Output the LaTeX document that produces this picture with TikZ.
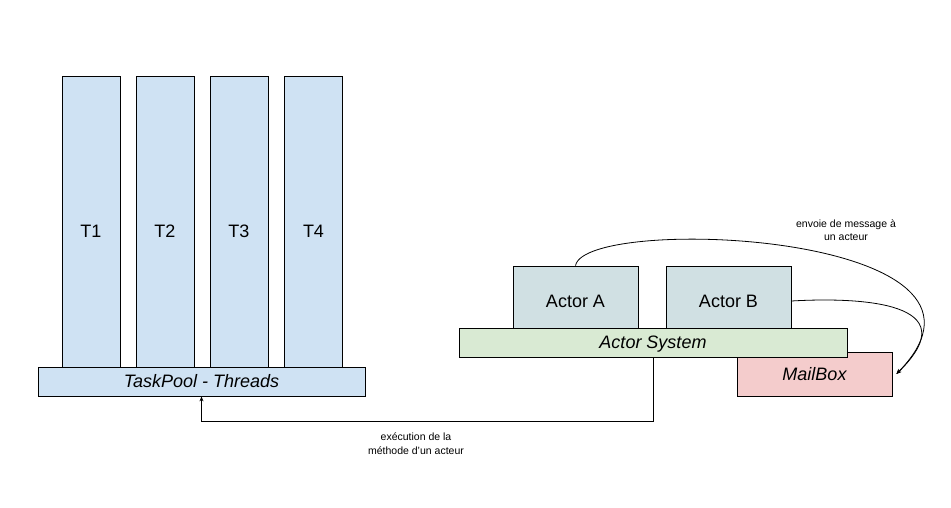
\documentclass[tikz,border=0pt]{standalone}
\usepackage{fontspec}
\setmainfont{Liberation Sans}
\usetikzlibrary{arrows.meta}
\definecolor{tblue}{HTML}{CFE2F3}
\definecolor{actorc}{HTML}{D0E0E3}
\definecolor{sysc}{HTML}{D9EAD3}
\definecolor{mailc}{HTML}{F4CCCC}
\begin{document}
\begin{tikzpicture}[x=1pt,y=-1pt,
  box/.style={draw=black, line width=0.8pt, inner sep=0pt,
    font=\fontsize{18}{21}\selectfont, text height=12.9pt, text depth=0pt},
  thread/.style={box, fill=tblue, minimum width=58pt, minimum height=310pt},
  actor/.style={box, fill=actorc, minimum width=125pt, minimum height=70pt},
  conn/.style={draw=black, line width=0.8pt, -{Stealth[length=5pt,width=4pt]}},
  lbl/.style={align=center, inner sep=0pt, font=\fontsize{10.5}{13.5}\selectfont}]
\useasboundingbox[fill=white] (0,0) rectangle (951,507);

\node[thread] (T1) at (91,231) {T1};
\node[thread] (T2) at (165,231) {T2};
\node[thread] (T3) at (239,231) {T3};
\node[thread] (T4) at (313.5,231) {T4};
\node[box, fill=tblue, minimum width=327pt, minimum height=29pt] (TP) at (201.5,381.5) {\itshape TaskPool - Threads};

\node[box, fill=mailc, minimum width=155pt, minimum height=44pt] (MB) at (814.5,374) {\itshape MailBox};
\node[actor] (A) at (575.5,301) {Actor A};
\node[actor] (B) at (728.5,301) {Actor B};
\node[box, fill=sysc, minimum width=388pt, minimum height=29pt] (AS) at (653,342.5) {\itshape Actor System};

\draw[conn] (A.north) .. controls (585,214) and (1035,232) .. ([xshift=4pt]MB.east);
\draw[conn] (B.east) .. controls (860,297) and (970,302) .. ([xshift=4pt]MB.east);
\draw[conn] (AS.south) -- ++(0,64) -| (TP.south);

\node[lbl] (L1) at (846,230) {envoie de message à\\un acteur};
\node[lbl] (L2) at (416,443.5) {exécution de la\\méthode d'un acteur};
\end{tikzpicture}
\end{document}
